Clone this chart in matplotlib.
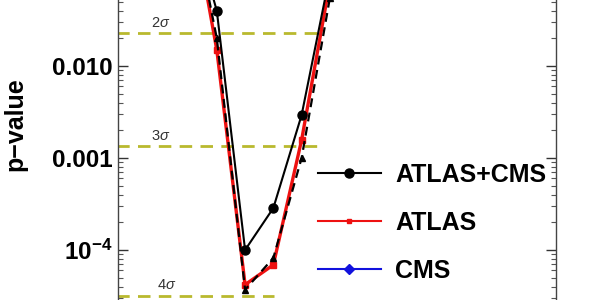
import matplotlib
matplotlib.use("Agg")
import matplotlib.pyplot as plt
from matplotlib.lines import Line2D
from matplotlib.ticker import FixedLocator, FixedFormatter, LogLocator, NullFormatter

plt.rcParams['font.family'] = ['Liberation Sans', 'DejaVu Sans']
plt.rcParams['mathtext.fontset'] = 'custom'
plt.rcParams['mathtext.rm'] = 'Liberation Sans'
plt.rcParams['mathtext.bf'] = 'Liberation Sans:bold'
plt.rcParams['mathtext.it'] = 'Liberation Sans:italic'

# ---- data ----
mass = [700, 725, 750, 775, 800, 825]
p_comb = [0.5, 0.0397, 1.0e-4, 2.86e-4, 2.93e-3, 0.098]
p_atlas = [0.76, 0.0149, 4.2e-5, 6.9e-5, 1.57e-3, 0.08]
p_dashed = [0.7, 0.02, 3.7e-5, 8.2e-5, 1.0e-3, 0.055]

sigma_labels = [r"2$\sigma$", r"3$\sigma$", r"4$\sigma$"]
sigma_p = [0.02275, 0.00135, 3.167e-5]
sigma_xmax = [821, 821, 776]
sigma_label_x = [675.5, 675.5, 681]

ytick_vals = [1e-4, 1e-3, 1e-2]
ytick_labels = [r'$\mathbf{10^{-4}}$', '0.001', '0.010']

legend_labels = ["ATLAS+CMS", "ATLAS", "CMS"]

# ---- figure ----
fig = plt.figure(figsize=(6, 3), dpi=100)
ax = fig.add_axes([118/600, -0.2, (556-118)/600, 1.4])
ax.set_yscale('log')
ax.set_xlim(637.6, 1025)
ax.set_ylim(10**-5.1957, 10**-0.6304)

olive = '#b9b92e'
for lab, p, xm, lx in zip(sigma_labels, sigma_p, sigma_xmax, sigma_label_x):
    ax.plot([600, xm], [p, p], color=olive, lw=2.0, ls=(0, (4.5, 3)), zorder=1)
    ax.annotate(lab, (lx, p), xytext=(0, 2.5), textcoords='offset points',
                ha='center', va='bottom', fontsize=10.5, color='#333333')

ax.plot(mass, p_atlas, color='#ee1111', lw=2.4, marker='s', ms=4, zorder=3)
ax.plot(mass, p_dashed, color='black', lw=1.6, ls=(0, (4, 2.5)), marker='^', ms=5, zorder=4)
ax.plot(mass, p_comb, color='black', lw=1.5, marker='o', ms=6.5, zorder=5)

ax.yaxis.set_major_locator(FixedLocator(ytick_vals))
ax.yaxis.set_major_formatter(FixedFormatter(ytick_labels))
ax.yaxis.set_minor_locator(LogLocator(base=10, subs=range(2, 10), numticks=20))
ax.yaxis.set_minor_formatter(NullFormatter())
ax.tick_params(axis='y', which='major', direction='in', length=7, width=1,
               labelsize=17.5, right=True, colors='#333333', labelcolor='black', pad=4)
ax.tick_params(axis='y', which='minor', direction='in', length=3.5, width=0.8,
               right=True, colors='#555555')
for t in ax.get_yticklabels():
    t.set_fontweight('bold')
ax.tick_params(axis='x', bottom=False, labelbottom=False)

for s in ['left', 'right']:
    ax.spines[s].set_color('#444444')
    ax.spines[s].set_linewidth(1.0)

ax.set_ylabel('p−value', fontsize=18, fontweight='bold')
ax.yaxis.set_label_coords((27 - 118) / 438, (300 - 124 + 60) / 420)

handles = [
    Line2D([], [], color='black', lw=1.5, marker='o', ms=6.5),
    Line2D([], [], color='#ee1111', lw=1.5, marker='s', ms=3.5),
    Line2D([], [], color='#1111dd', lw=1.5, marker='D', ms=5),
]
leg = ax.legend(handles, legend_labels, loc='upper left',
                bbox_to_anchor=(318/600, 1 - 163/300), bbox_transform=fig.transFigure,
                frameon=False, borderpad=0, borderaxespad=0,
                handlelength=2.5, handletextpad=0.6, labelspacing=0.95,
                prop={'size': 18, 'weight': 'bold'})

fig.savefig('out.png', dpi=100)
